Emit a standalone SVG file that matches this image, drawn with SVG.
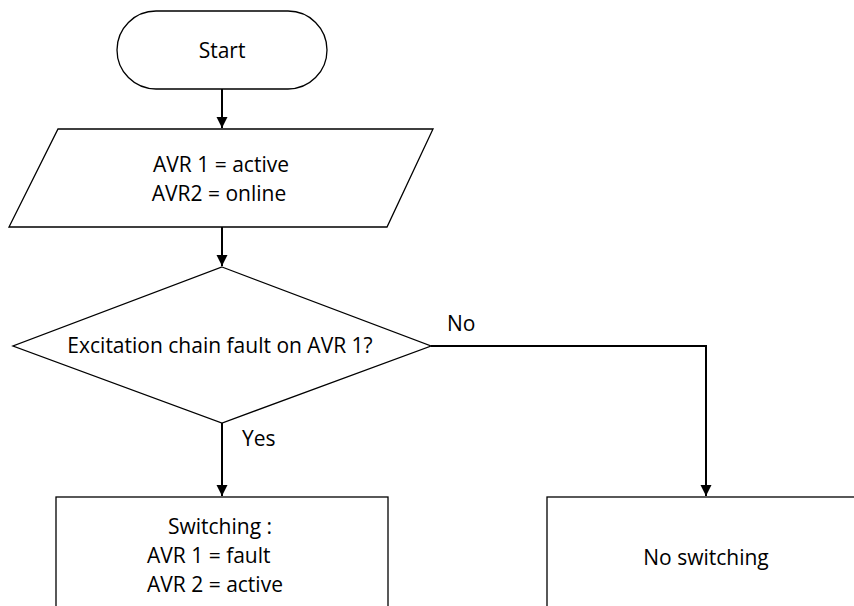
<svg xmlns="http://www.w3.org/2000/svg" width="854" height="606" viewBox="0 0 854 606">
<defs>
<style>
.shape{fill:#fff;stroke:#000;stroke-width:1.3}
.conn{fill:none;stroke:#000;stroke-width:2}
text{font-family:"Open Sans","Liberation Sans",sans-serif;font-size:21px;fill:#000}
.c{text-anchor:middle}
</style>
<marker id="arr" viewBox="0 0 10 10" refX="10" refY="5" markerWidth="5.5" markerHeight="6" markerUnits="strokeWidth" orient="auto">
<path d="M0,0 L10,5 L0,10 Z" fill="#000"/>
</marker>
</defs>
<rect width="854" height="606" fill="#fff"/>
<g id="connectors">
<line class="conn" x1="222" y1="89" x2="222" y2="128" marker-end="url(#arr)"/>
<line class="conn" x1="222" y1="227" x2="222" y2="266" marker-end="url(#arr)"/>
<line class="conn" x1="222" y1="423" x2="222" y2="496" marker-end="url(#arr)"/>
<polyline class="conn" points="431,346 706,346 706,496" marker-end="url(#arr)"/>
<text x="447" y="331">No</text>
<text x="242" y="446">Yes</text>
</g>
<g id="start">
<rect class="shape" x="117" y="11" width="210" height="78" rx="39" ry="39"/>
<text class="c" x="222" y="58">Start</text>
</g>
<g id="input">
<polygon class="shape" points="58,129 433,129 387,227 9,227"/>
<text class="c" x="221" y="172">AVR 1 = active</text>
<text class="c" x="219" y="201">AVR2 = online</text>
</g>
<g id="decision">
<polygon class="shape" points="222,267 431,346 222,423 13,346"/>
<text class="c" x="220" y="353">Excitation chain fault on AVR 1?</text>
</g>
<g id="switching">
<rect class="shape" x="56" y="497" width="332" height="130"/>
<text class="c" x="220" y="534">Switching :</text>
<text x="147" y="563">AVR 1 = fault</text>
<text x="147" y="592">AVR 2 = active</text>
</g>
<g id="noswitching">
<rect class="shape" x="547" y="497" width="320" height="130"/>
<text class="c" x="706" y="565">No switching</text>
</g>
</svg>
